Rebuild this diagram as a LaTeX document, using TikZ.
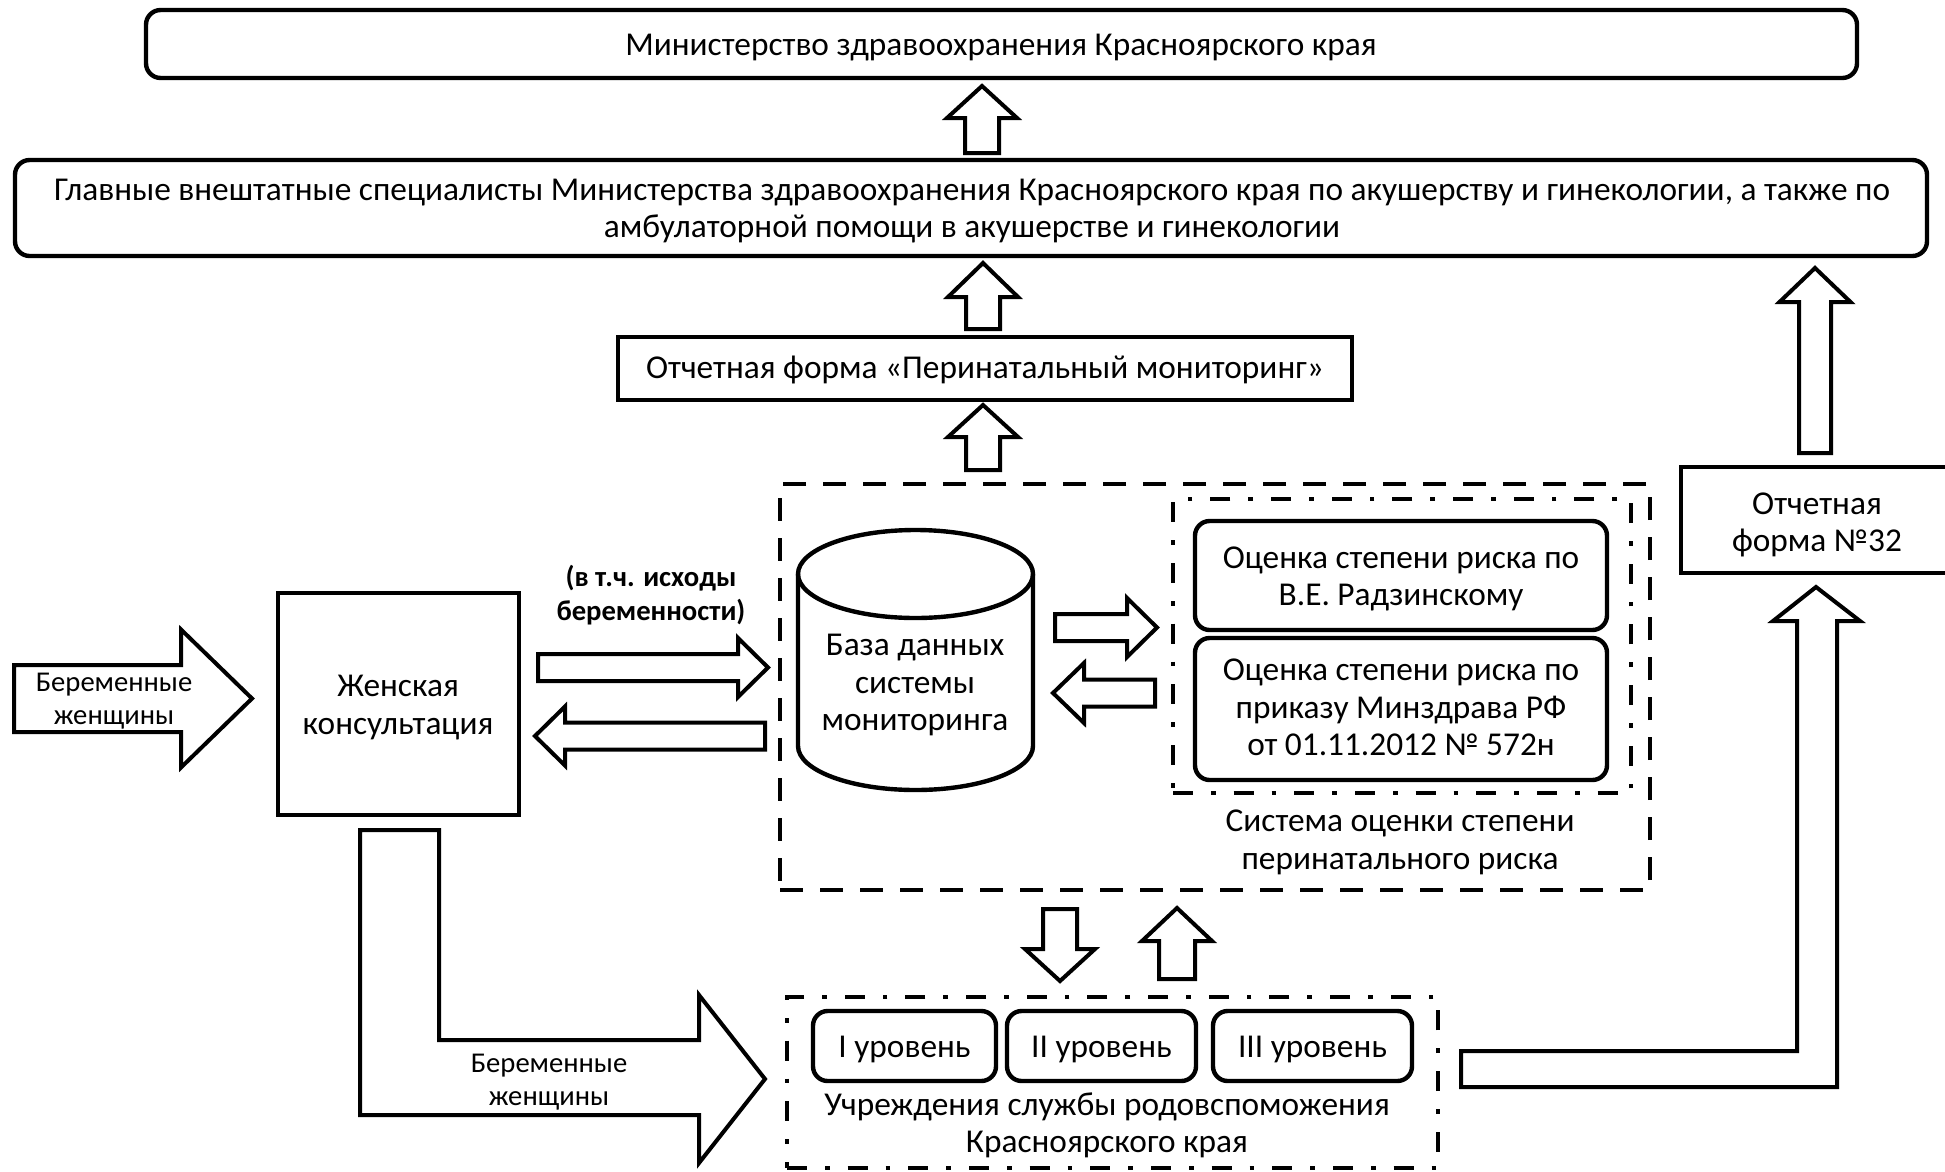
\documentclass[tikz,border=0pt]{standalone}
\usepackage{fontspec}
\setmainfont{Carlito}
\usetikzlibrary{fit}
\newcommand{\myvarr}[6]{\draw[blk] (#1-#6,#4) -- (#1-#6,#3) -- (#1-#5,#3) -- (#1,#2) -- (#1+#5,#3) -- (#1+#6,#3) -- (#1+#6,#4) -- cycle;}
\newcommand{\myharr}[6]{\draw[blk] (#4,#1-#6) -- (#3,#1-#6) -- (#3,#1-#5) -- (#2,#1) -- (#3,#1+#5) -- (#3,#1+#6) -- (#4,#1+#6) -- cycle;}
\begin{document}
\begin{tikzpicture}[x=0.75pt,y=-0.75pt,
  box/.style={draw, line width=3.3pt, inner sep=0pt},
  rbox/.style={box, rounded corners=11pt},
  blk/.style={draw, line width=3pt, fill=white, line join=miter, miter limit=10},
  txt/.style={font=\fontsize{25}{28}\selectfont, align=center, inner sep=0pt},
  sml/.style={font=\fontsize{21.5}{24.75}\selectfont, align=center, inner sep=0pt},
  bld/.style={font=\bfseries\fontsize{21.5}{26}\selectfont, align=center, inner sep=0pt},
  dashbox/.style={draw, line width=3.2pt, dash pattern=on 17.5pt off 12.5pt, inner sep=0pt},
  dotbox/.style={draw, line width=3.2pt, dash pattern=on 15pt off 13.5pt on 3.5pt off 13.5pt, inner sep=0pt}
]
\useasboundingbox (0,0) rectangle (1945,1171);
\clip (0,0) rectangle (1945,1171);

% top boxes
\node[rbox, fit={(146,10) (1857,78)}] (min) {};
\node[txt] at (1001,48) {Министерство здравоохранения Красноярского края};
\node[rbox, fit={(15,160) (1927,256)}] (spec) {};
\node[txt] at (972,211) {Главные внештатные специалисты Министерства здравоохранения Красноярского края по акушерству и гинекологии, а также по\\амбулаторной помощи в акушерстве и гинекологии};
\node[box, fit={(618,337) (1352,400)}] (form) {};
\node[txt] at (985,370) {Отчетная форма «Перинатальный мониторинг»};

% monitoring system
\node[dashbox, fit={(780,484) (1650,890)}] (sys) {};
\node[dotbox, fit={(1173,499) (1631,793)}] (risk) {};
\node[rbox, fit={(1195,521) (1607,630)}] (rad) {};
\node[txt] at (1401,579) {Оценка степени риска по\\В.Е. Радзинскому};
\node[rbox, fit={(1195,638) (1607,780)}] (mz) {};
\node[txt] at (1401,707.5) {Оценка степени риска по\\приказу Минздрава РФ\\от 01.11.2012 № 572н};
\node[txt] (riskcap) at (1400,842.5) {Система оценки степени\\перинатального риска};

% cylinder
\draw[box] (798,574) -- (798,746) arc[start angle=180,end angle=360,x radius=88.125pt,y radius=33pt] -- (1033,574);
\draw[box] (915.5,574) ellipse [x radius=88.125pt, y radius=33pt];
\node[txt] (db) at (915,685) {База данных\\системы\\мониторинга};

% women consultation
\node[box, fit={(278,593) (519,815)}] (zk) {};
\node[txt] at (398,707.5) {Женская\\консультация};

% form 32
\node[box, fit={(1681,467) (1960,573)}] (f32) {};
\node[txt] at (1817,525) {Отчетная\\форма №32};

% institutions
\node[dotbox, fit={(787,997) (1438,1168)}] (inst) {};
\node[rbox, fit={(813,1011) (996,1081)}] (l1) {};
\node[txt] at (904.5,1049.5) {I уровень};
\node[rbox, fit={(1007,1011) (1196,1081)}] (l2) {};
\node[txt] at (1101.5,1049.5) {II уровень};
\node[rbox, fit={(1213,1011) (1412,1081)}] (l3) {};
\node[txt] at (1312.5,1049.5) {III уровень};
\node[txt] at (1107,1125) {Учреждения службы родовспоможения\\Красноярского края};

% vertical arrows
\myvarr{982}{86}{118}{153}{35}{17}
\myvarr{983}{263}{297}{329}{35}{17}
\myvarr{983}{405}{437}{470}{35}{17}
\myvarr{1815}{268}{302}{453}{35.5}{16}
\myvarr{1177}{908}{941}{979}{35}{18}
\myvarr{1060}{981}{949}{909}{35}{17}

% horizontal arrows
\myharr{698.5}{252}{181}{14}{69}{33.5}
\myharr{667.5}{768}{738}{538}{29.5}{13.5}
\myharr{736}{535}{565}{765}{29.5}{13.5}
\myharr{627.5}{1157}{1127}{1055}{29.5}{13.5}
\myharr{693}{1053}{1084}{1155}{30}{13.5}

% bent arrows
\draw[blk] (360,830) -- (439,830) -- (439,1040) -- (699,1040) -- (699,995) -- (765,1079) -- (699,1163) -- (699,1115) -- (360,1115) -- cycle;
\draw[blk] (1461,1051) -- (1797,1051) -- (1797,621) -- (1773,621) -- (1816,587) -- (1860,621) -- (1837,621) -- (1837,1087) -- (1461,1087) -- cycle;

% labels
\node[sml] at (114,701.5) {Беременные\\женщины};
\node[sml] at (549,1082.5) {Беременные\\женщины};
\node[bld] at (651,595) {(в т.ч. исходы\\беременности)};
\end{tikzpicture}
\end{document}
